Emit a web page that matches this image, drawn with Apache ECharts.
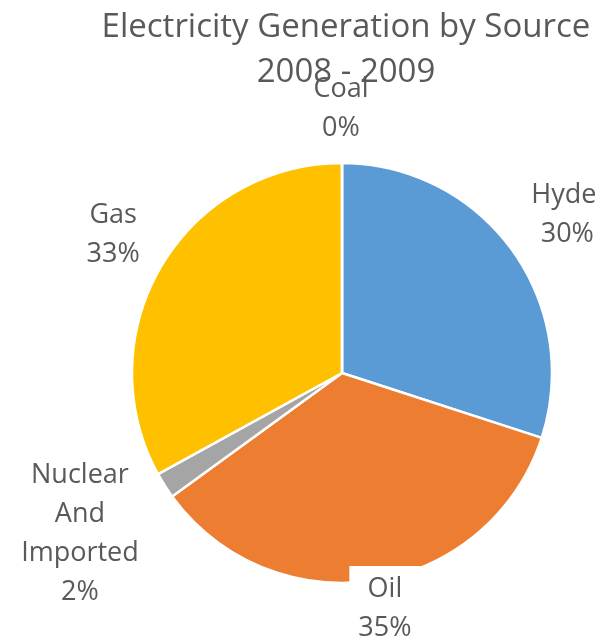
<!DOCTYPE html>
<html>
<head>
<meta charset="utf-8">
<title>Electricity Generation by Source 2008 - 2009</title>
<script src="https://cdn.jsdelivr.net/npm/echarts@6/dist/echarts.min.js"></script>
<style>
  html, body { margin: 0; padding: 0; background: #fff; }
  #chart { width: 596px; height: 639px; }
</style>
</head>
<body>
<div id="chart"></div>
<script>
// Source categories and their share of generation (percent)
const sources = ['Hydel', 'Oil', 'Nuclear And Imported', 'Gas', 'Coal'];
const shares = [30, 35, 2, 33, 0];
const sliceColors = ['#5B9BD5', '#ED7D31', '#A5A5A5', '#FFC000', '#4472C4'];

const titleLines = ['Electricity Generation by Source', '2008 - 2009'];

const CX = 342, CY = 373, R = 210;
// how far each label block sits from the pie centre, plus a small nudge
const labelDist = [276, 236, 308, 267, 264];
const labelNudge = [[2, 4], [6, 3], [-2, -4], [1, -2], [-1, 0]];

const total = shares.reduce((a, b) => a + b, 0);
// mid angle of each slice, clockwise from 12 o'clock (radians)
const midAngles = [];
let acc = 0;
shares.forEach(v => {
  midAngles.push(((acc + v / 2) / total) * Math.PI * 2);
  acc += v;
});

const chart = echarts.init(document.getElementById('chart'), null, { renderer: 'canvas' });
const font = '"Open Sans", "Liberation Sans", sans-serif';

chart.setOption({
  backgroundColor: '#ffffff',
  animation: false,
  title: {
    text: titleLines.join('\n'),
    left: 341,
    top: 0,
    textAlign: 'center',
    textStyle: {
      fontFamily: font,
      fontSize: 33,
      fontWeight: 'normal',
      color: '#595959',
      lineHeight: 45
    }
  },
  series: [{
    type: 'pie',
    center: [CX, CY],
    radius: R,
    startAngle: 90,
    clockwise: true,
    avoidLabelOverlap: false,
    minAngle: 0,
    data: sources.map((name, i) => ({
      name: name,
      value: shares[i],
      itemStyle: { color: sliceColors[i] },
      label: name === 'Oil' ? { backgroundColor: '#ffffff', padding: [4, 9, 4, 9] } : {}
    })),
    itemStyle: { borderColor: '#ffffff', borderWidth: 2.5 },
    label: {
      show: true,
      position: 'outside',
      fontFamily: font,
      fontSize: 27,
      color: '#595959',
      lineHeight: 39,
      align: 'center',
      formatter: p => p.name.split(' ').join('\n') + '\n' + Math.round(p.percent) + '%'
    },
    labelLine: { show: false },
    labelLayout: params => {
      const i = params.dataIndex;
      const a = midAngles[i];
      const d = labelDist[i];
      return {
        x: CX + d * Math.sin(a) + labelNudge[i][0],
        y: CY - d * Math.cos(a) + labelNudge[i][1],
        align: 'center',
        verticalAlign: 'middle'
      };
    },
    emphasis: { disabled: true }
  }]
});
</script>
</body>
</html>
